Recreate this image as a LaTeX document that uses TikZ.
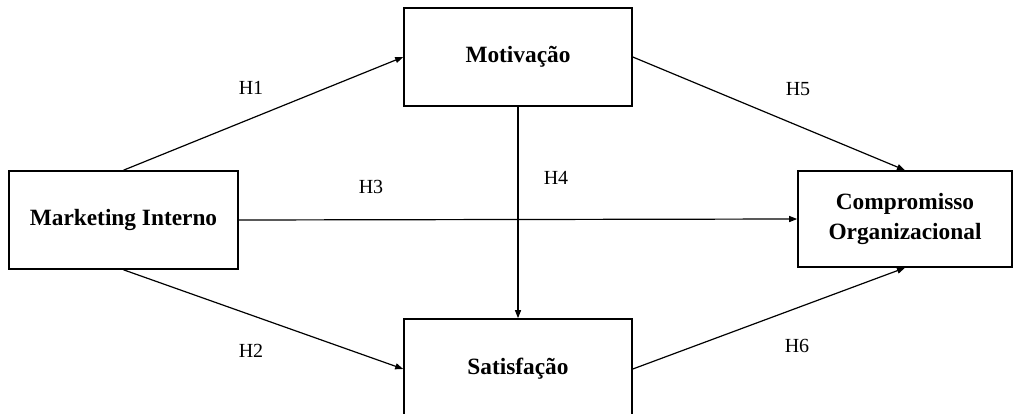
\documentclass[tikz,border=0pt]{standalone}
\usepackage{fontspec}
\setmainfont{Liberation Serif}
\usetikzlibrary{arrows.meta}

\begin{document}
\begin{tikzpicture}[
    x=0.75pt, y=-0.75pt, font=\fontsize{15}{17}\selectfont,
    var/.style={draw=black, line width=1.2pt, font=\fontsize{17.5}{22.5}\selectfont\bfseries,
                align=center, inner sep=0pt},
    hip/.style={-{Triangle[length=6pt, width=4.5pt]}, line width=0.9pt, black},
    lbl/.style={inner sep=1pt},
]
\useasboundingbox (0,0) rectangle (1021,414);

% ===================== Construtos =====================
\node[var, minimum width=171.75pt, minimum height=73.5pt] (mi)  at (123.5,220) {Marketing Interno};
\node[var, minimum width=171pt, minimum height=73.5pt]    (mot) at (518,57)    {Motivação};
\node[var, minimum width=171pt, minimum height=75pt]      (sat) at (518,369)   {Satisfação};
\node[var, minimum width=160.5pt, minimum height=72pt]    (comp) at (905,219)
      {Compromisso\\Organizacional};

% ===================== Hipóteses =====================
\draw[hip] (mi.north) -- (mot.west);
\draw[hip] (mi.south) -- (sat.west);
\draw[hip] (mi.east) -- (comp.west);
\draw[hip] (mot.south) -- (sat.north);
\draw[hip] (mot.east) -- (comp.north);
\draw[hip] (sat.east) -- (comp.south);

\node[lbl] (h1) at (251,88)  {H1};
\node[lbl] (h2) at (251,351) {H2};
\node[lbl] (h3) at (371,187) {H3};
\node[lbl] (h4) at (556,178) {H4};
\node[lbl] (h5) at (798,89)  {H5};
\node[lbl] (h6) at (797,346) {H6};

\end{tikzpicture}
\end{document}
